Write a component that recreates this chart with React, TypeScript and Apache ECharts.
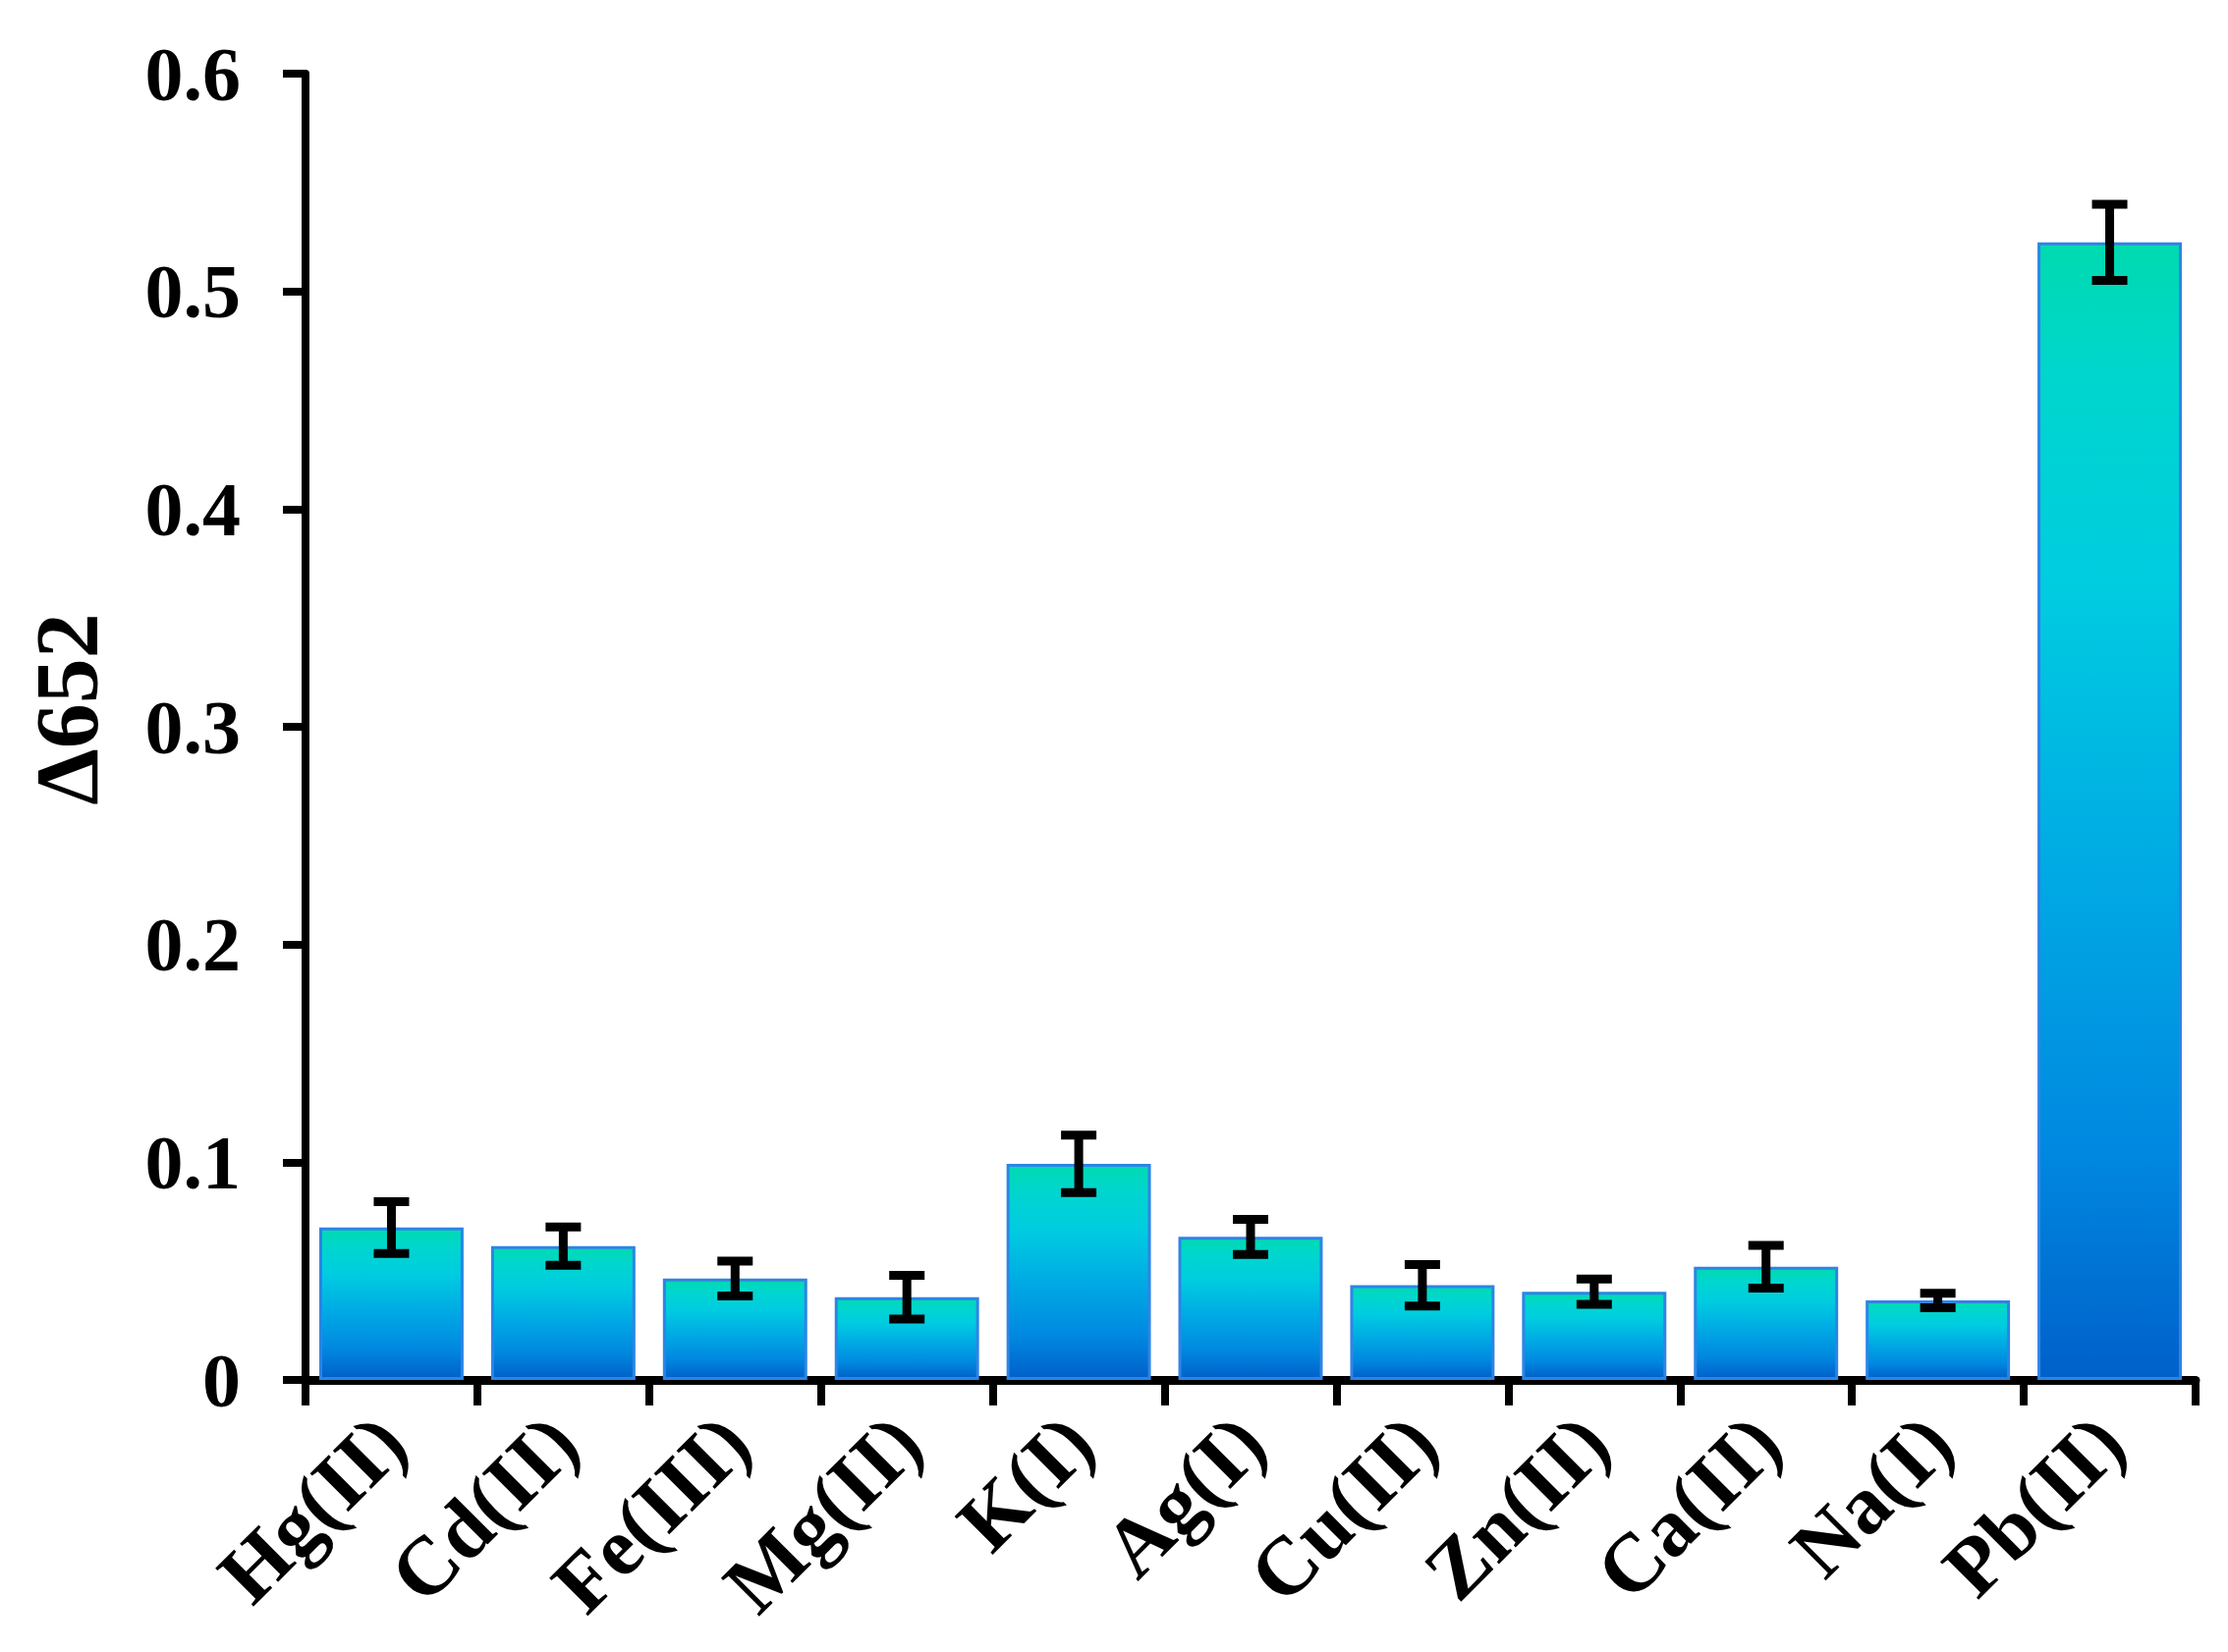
import React, { useEffect, useRef } from "react";
import * as echarts from "echarts";

const categories = ["Hg(II)", "Cd(II)", "Fe(III)", "Mg(II)", "K(I)", "Ag(I)", "Cu(II)", "Zn(II)", "Ca(II)", "Na(I)", "Pb(II)"];
const values = [0.070, 0.0615, 0.0466, 0.038, 0.0993, 0.0657, 0.0435, 0.0405, 0.052, 0.0365, 0.5225];
const errors = [0.0119, 0.0088, 0.008, 0.0100, 0.0132, 0.0081, 0.0095, 0.0058, 0.0098, 0.0033, 0.0175];
const yTicks = [0, 0.1, 0.2, 0.3, 0.4, 0.5, 0.6];
const yTitle = "Δ652";

const FONT = "'Liberation Serif', 'Times New Roman', serif";

export default function App() {
  const ref = useRef<HTMLDivElement>(null);
  useEffect(() => {
    document.body.style.margin = "0";
    const chart = echarts.init(ref.current!, null, { renderer: "svg" });
    const grad = new echarts.graphic.LinearGradient(0, 0, 0, 1, [
      { offset: 0, color: "#00DAB0" },
      { offset: 0.12, color: "#00D6CE" },
      { offset: 0.3, color: "#00CCE0" },
      { offset: 0.55, color: "#00AAE4" },
      { offset: 0.8, color: "#0088E0" },
      { offset: 1, color: "#0060CA" },
    ]);
    const errData = values.map((v, i) => [i, v, errors[i]]);
    chart.setOption({
      animation: false,
      backgroundColor: "#ffffff",
      grid: { left: 311, top: 75, right: 33, bottom: 277, containLabel: false, outerBoundsMode: "none" },
      xAxis: {
        type: "category",
        data: categories,
        boundaryGap: true,
        axisLine: { show: true, lineStyle: { color: "#000", width: 9 } },
        axisTick: { show: true, length: 26, lineStyle: { color: "#000", width: 8 }, alignWithLabel: false },
        axisLabel: {
          rotate: 45,
          interval: 0,
          margin: 50,
          fontFamily: FONT,
          fontWeight: "bold",
          fontSize: 84,
          color: "#000",
          align: "right",
          verticalAlign: "middle",
        },
        splitLine: { show: false },
      },
      yAxis: {
        type: "value",
        min: 0,
        max: 0.6,
        interval: 0.1,
        axisLine: { show: true, lineStyle: { color: "#000", width: 8 } },
        axisTick: { show: true, length: 23, lineStyle: { color: "#000", width: 8 } },
        axisLabel: {
          margin: 66,
          fontFamily: FONT,
          fontWeight: "bold",
          fontSize: 78,
          color: "#000",
          formatter: (v: number) => {
            const t = yTicks.find((x) => Math.abs(x - v) < 1e-9);
            return t === 0 ? "0" : (t ?? v).toFixed(1);
          },
        },
        splitLine: { show: false },
      },
      graphic: [
        {
          type: "text",
          x: 68,
          y: 722,
          rotation: Math.PI / 2,
          style: {
            text: yTitle,
            fontFamily: FONT,
            fontWeight: "bold",
            fontSize: 92,
            fill: "#000",
            align: "center",
            verticalAlign: "middle",
          },
        },
      ],
      series: [
        {
          type: "bar",
          data: values,
          barCategoryGap: "16%",
          itemStyle: { color: grad, borderColor: "#2E84E6", borderWidth: 3 },
          z: 2,
        },
        {
          type: "custom",
          data: errData,
          z: 10,
          renderItem: (params: any, api: any) => {
            const i = api.value(0);
            const v = api.value(1);
            const e = api.value(2);
            const top = api.coord([i, v + e]);
            const bot = api.coord([i, v - e]);
            const x = top[0];
            const capW = 36;
            const capH = 9;
            const stemW = 9;
            return {
              type: "group",
              children: [
                { type: "rect", shape: { x: x - stemW / 2, y: top[1], width: stemW, height: bot[1] - top[1] }, style: { fill: "#000" } },
                { type: "rect", shape: { x: x - capW / 2, y: top[1] - capH / 2, width: capW, height: capH }, style: { fill: "#000" } },
                { type: "rect", shape: { x: x - capW / 2, y: bot[1] - capH / 2, width: capW, height: capH }, style: { fill: "#000" } },
              ],
            };
          },
        },
      ],
    });
    return () => chart.dispose();
  }, []);
  return <div ref={ref} style={{ width: 2268, height: 1682 }} />;
}
